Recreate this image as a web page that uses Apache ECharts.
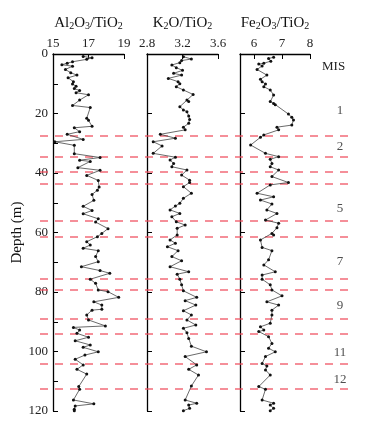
<!DOCTYPE html>
<html>
<head>
<meta charset="utf-8">
<script src="https://cdn.jsdelivr.net/npm/echarts@6/dist/echarts.min.js"></script>
<style>
  html, body { margin: 0; padding: 0; background: #fff; }
  #main { width: 380px; height: 426px; }
</style>
</head>
<body>
<div id="main"></div>
<script>
// depth (m) and ratios
var alDepth = [0.8, 1.3, 1.8, 2.6, 3.1, 3.6, 4.1, 5.2, 6.3, 7.1, 8.0, 9.3, 10.1, 10.8, 11.6, 12.3, 13.0, 13.7, 15.5, 17.3, 18.0, 21.6, 22.3, 24.3, 24.8, 26.1, 27.0, 28.7, 29.5, 30.7, 33.5, 34.8, 35.7, 36.1, 38.2, 39.1, 40.8, 42.5, 44.7, 45.8, 47.2, 49.2, 51.2, 52.6, 53.7, 55.4, 56.5, 58.7, 60.3, 61.4, 63.1, 64.2, 65.3, 66.1, 68.1, 69.8, 71.5, 72.8, 73.7, 75.7, 77.1, 79.3, 79.9, 81.8, 83.3, 84.4, 85.8, 86.1, 87.7, 89.4, 91.4, 91.9, 92.8, 93.9, 95.2, 96.4, 97.8, 98.6, 100.1, 101.2, 102.6, 104.5, 106.0, 107.6, 111.8, 112.7, 116.3, 117.6, 118.3, 119.4, 119.9];
var alRatio = [16.7, 17.2, 16.9, 16.1, 15.8, 15.5, 16.1, 15.7, 16.0, 16.35, 15.85, 16.15, 16.1, 16.3, 16.2, 16.5, 16.3, 17.0, 16.5, 16.1, 17.1, 16.9, 17.0, 17.2, 16.2, 16.5, 15.8, 16.7, 15.1, 16.2, 16.2, 17.65, 16.5, 17.1, 16.4, 17.65, 16.9, 17.55, 17.6, 17.5, 17.2, 17.3, 16.7, 17.2, 16.7, 17.55, 17.4, 18.1, 17.75, 17.5, 16.9, 17.1, 16.7, 17.55, 17.4, 17.55, 16.6, 17.65, 18.2, 17.1, 17.4, 17.55, 18.1, 18.7, 17.3, 17.75, 17.75, 17.2, 16.9, 17.0, 17.95, 16.15, 16.5, 16.35, 17.0, 16.25, 17.1, 16.7, 17.55, 16.8, 16.25, 16.7, 16.35, 16.9, 16.45, 16.5, 16.15, 17.3, 16.25, 16.2, 16.2];

var kDepth = [0.9, 1.7, 2.2, 2.9, 3.7, 4.6, 5.5, 6.5, 7.1, 8.2, 9.3, 10.0, 11.0, 12.1, 13.6, 15.5, 16.0, 17.7, 18.8, 19.4, 20.8, 22.0, 23.3, 24.6, 25.5, 27.0, 28.3, 29.5, 30.9, 33.4, 34.7, 35.6, 36.8, 37.9, 39.0, 40.7, 42.4, 43.2, 44.6, 46.8, 48.5, 50.2, 51.1, 52.4, 53.6, 54.7, 56.4, 57.5, 58.6, 60.8, 62.5, 63.6, 64.8, 66.1, 68.1, 69.5, 71.5, 73.2, 74.0, 75.7, 77.6, 79.6, 81.8, 82.9, 84.4, 86.3, 87.7, 89.4, 91.1, 92.2, 93.7, 95.6, 98.2, 100.1, 101.7, 104.5, 106.0, 107.9, 111.6, 116.3, 117.4, 118.0, 119.1, 119.9];
var kRatio = [3.21, 3.30, 3.19, 3.17, 3.08, 3.13, 3.20, 3.10, 3.19, 3.04, 3.15, 3.17, 3.13, 3.21, 3.32, 3.25, 3.27, 3.17, 3.21, 3.25, 3.27, 3.28, 3.27, 3.21, 3.23, 2.95, 3.12, 2.87, 2.97, 2.87, 3.12, 3.06, 3.10, 3.08, 3.25, 3.19, 3.28, 3.28, 3.21, 3.30, 3.21, 3.17, 3.12, 3.06, 3.17, 3.08, 3.13, 3.23, 3.14, 3.14, 3.06, 3.12, 3.03, 3.15, 3.08, 3.19, 3.06, 3.27, 3.14, 3.17, 3.19, 3.21, 3.36, 3.23, 3.35, 3.21, 3.30, 3.25, 3.35, 3.21, 3.25, 3.27, 3.30, 3.47, 3.23, 3.36, 3.27, 3.38, 3.30, 3.23, 3.36, 3.27, 3.28, 3.21];

var feDepth = [1.1, 1.5, 2.4, 3.1, 3.4, 4.0, 5.2, 7.1, 8.5, 9.3, 10.1, 11.0, 12.1, 13.8, 16.0, 16.6, 17.1, 20.2, 21.3, 22.2, 23.9, 24.6, 25.5, 27.2, 28.0, 30.6, 33.4, 34.5, 35.4, 36.8, 37.9, 39.0, 41.2, 43.2, 44.0, 46.8, 48.0, 49.1, 50.4, 52.4, 53.6, 55.8, 56.9, 58.4, 60.3, 60.8, 62.5, 65.0, 66.1, 69.2, 70.9, 73.2, 74.3, 75.7, 77.6, 79.3, 81.3, 83.3, 84.4, 86.1, 87.7, 90.5, 91.7, 92.8, 93.3, 95.0, 97.3, 98.9, 100.1, 101.7, 104.0, 104.9, 106.2, 107.9, 111.8, 112.7, 116.3, 117.4, 118.0, 119.1, 119.9];
var feRatio = [6.70, 6.52, 6.60, 6.35, 6.17, 6.29, 6.11, 6.46, 6.23, 6.29, 6.41, 6.35, 6.58, 6.70, 6.58, 6.70, 6.76, 7.23, 7.35, 7.41, 7.35, 6.82, 6.88, 6.35, 6.23, 5.88, 6.41, 6.88, 6.58, 6.64, 6.58, 6.88, 6.64, 7.23, 6.58, 6.11, 6.70, 6.23, 6.64, 6.46, 6.82, 6.41, 6.88, 6.82, 6.64, 6.70, 6.23, 6.29, 6.64, 6.52, 6.35, 6.76, 6.29, 6.29, 6.58, 6.64, 7.00, 6.46, 6.88, 6.64, 6.64, 6.58, 6.23, 6.35, 6.17, 6.52, 6.64, 6.52, 6.76, 6.41, 6.29, 6.46, 6.41, 6.58, 6.17, 6.41, 6.29, 6.70, 6.58, 6.70, 6.58];

// MIS stage boundaries and labels
var boundaryDepth = [27.4, 34.5, 39.6, 43.5, 56.1, 61.4, 75.4, 79.1, 89.0, 93.9, 104.0, 112.4];
var misNames = ['1', '2', '5', '7', '9', '11', '12'];
var misDepth = [19.1, 31.2, 51.8, 69.8, 84.6, 100.4, 109.6];

var serif = '"Liberation Serif", "Times New Roman", serif';
var dashRed = '#f0505f';
var titleRich = {
  n: { fontSize: 15, fontFamily: serif, color: '#111', lineHeight: 16 },
  s: { fontSize: 10, fontFamily: serif, color: '#111', lineHeight: 8, verticalAlign: 'bottom' }
};

function pairs(xs, ys) {
  return xs.map(function (x, i) { return [x, ys[i]]; });
}

function xAxisFor(idx, min, max, name, extra) {
  var ax = {
    type: 'value',
    gridIndex: idx,
    position: 'top',
    min: min,
    max: max,
    name: name,
    nameLocation: 'middle',
    nameGap: 23,
    nameTextStyle: { rich: titleRich },
    axisLine: { show: true, lineStyle: { color: '#000', width: 1.3 } },
    axisTick: { show: true, inside: true, length: 5, lineStyle: { color: '#000' } },
    axisLabel: { fontFamily: serif, fontSize: 13, color: '#222', margin: 4 },
    splitLine: { show: false }
  };
  return Object.assign(ax, extra);
}

function yAxisFor(idx, extra) {
  var ax = {
    type: 'value',
    gridIndex: idx,
    inverse: true,
    min: 0,
    max: 120,
    interval: 20,
    axisLine: { show: true, lineStyle: { color: '#000', width: 1.3 } },
    axisTick: { show: true, inside: true, length: 5, lineStyle: { color: '#000' } },
    axisLabel: { show: false },
    splitLine: { show: false }
  };
  return Object.assign(ax, extra);
}

function profile(idx, xs, ys) {
  return {
    type: 'line',
    xAxisIndex: idx,
    yAxisIndex: idx,
    data: pairs(xs, ys),
    symbol: 'circle',
    symbolSize: 3,
    showSymbol: true,
    clip: false,
    itemStyle: { color: '#111' },
    lineStyle: { color: '#444', width: 0.8 },
    z: 5
  };
}

var chart = echarts.init(document.getElementById('main'), null, { renderer: 'canvas' });

var option = {
  animation: false,
  backgroundColor: '#fff',
  grid: [
    { left: 53, top: 54, width: 71, height: 357 },
    { left: 147, top: 54, width: 71, height: 357 },
    { left: 240, top: 54, width: 70, height: 357 },
    { left: 40, top: 54, width: 310, height: 357 }
  ],
  xAxis: [
    xAxisFor(0, 15, 19, '{n|Al}{s|2}{n|O}{s|3}{n|/TiO}{s|2}', { interval: 2 }),
    xAxisFor(1, 2.8, 3.6, '{n|K}{s|2}{n|O/TiO}{s|2}', {
      interval: 0.4,
      axisLabel: { fontFamily: serif, fontSize: 13, color: '#222', margin: 4,
        formatter: function (v) { return v.toFixed(1); } }
    }),
    xAxisFor(2, 5.5, 8, '{n|Fe}{s|2}{n|O}{s|3}{n|/TiO}{s|2}', {
      splitNumber: 3,
      axisLabel: { fontFamily: serif, fontSize: 13, color: '#222', margin: 4, showMinLabel: false }
    }),
    { type: 'value', gridIndex: 3, min: 0, max: 1, show: false }
  ],
  yAxis: [
    yAxisFor(0, {
      interval: 10,
      name: 'Depth (m)',
      nameLocation: 'middle',
      nameGap: 21,
      nameTextStyle: { fontFamily: serif, fontSize: 15, color: '#111' },
      axisLabel: {
        show: true, fontFamily: serif, fontSize: 13, color: '#222', margin: 5,
        formatter: function (v) { return v % 20 === 0 ? String(v) : ''; }
      }
    }),
    yAxisFor(1),
    yAxisFor(2),
    { type: 'value', gridIndex: 3, inverse: true, min: 0, max: 120, show: false }
  ],
  graphic: [
    { type: 'text', left: 322, top: 60,
      style: { text: 'MIS', font: '13px "Liberation Serif", serif', fill: '#222' } }
  ],
  series: [
    {
      type: 'scatter',
      xAxisIndex: 3,
      yAxisIndex: 3,
      data: misDepth.map(function (d) { return [0.968, d]; }),
      symbolSize: 0,
      silent: true,
      label: {
        show: true,
        position: 'inside',
        fontFamily: serif,
        fontSize: 13,
        color: '#222',
        formatter: function (p) { return misNames[p.dataIndex]; }
      },
      markLine: {
        silent: true,
        symbol: ['none', 'none'],
        label: { show: false },
        emphasis: { disabled: true },
        lineStyle: { color: dashRed, type: [8, 7], width: 1.5, opacity: 0.85 },
        data: boundaryDepth.map(function (d) {
          return { yAxis: d, lineStyle: { color: dashRed } };
        })
      },
      z: 1
    },
    profile(0, alRatio, alDepth),
    profile(1, kRatio, kDepth),
    profile(2, feRatio, feDepth)
  ]
};

chart.setOption(option);
</script>
</body>
</html>
